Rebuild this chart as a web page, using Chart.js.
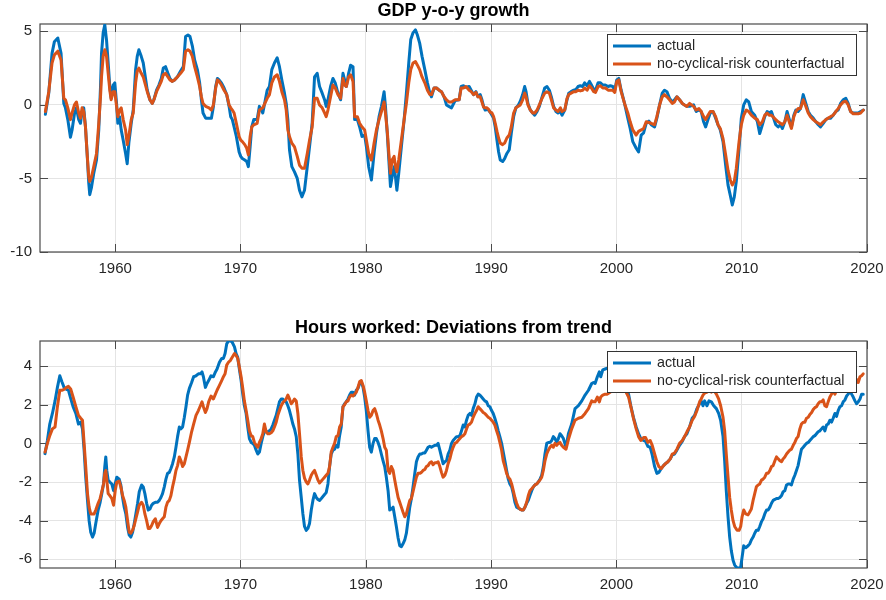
<!DOCTYPE html>
<html>
<head>
<meta charset="utf-8">
<script src="https://cdn.jsdelivr.net/npm/chart.js@4.4.1/dist/chart.umd.min.js"></script>
<style>
  html, body { margin: 0; padding: 0; background: #fff; }
  #wrap { position: relative; width: 886px; height: 600px; }
  canvas { position: absolute; left: 0; }
</style>
</head>
<body>
<div id="wrap">
  <canvas id="gdp" width="886" height="300" style="top:0"></canvas>
  <canvas id="hours" width="886" height="300" style="top:300px"></canvas>
</div>
<script>
// ---- Series labels and titles ----
const seriesLabels = ['actual', 'no-cyclical-risk counterfactual'];
const panelTitles = ['GDP y-o-y growth', 'Hours worked: Deviations from trend'];

// ---- Tick values ----
const yearTicks = [1960, 1970, 1980, 1990, 2000, 2010, 2020];
const gdpTicks = [-10, -5, 0, 5];
const hoursTicks = [-6, -4, -2, 0, 2, 4];

// ---- GDP y-o-y growth (percent) ----
const gdpYears = [
  1954.43,1954.70,1954.96,1955.15,1955.42,1955.68,1955.90,1956.03,1956.22,1956.43,1956.56,1956.75,1956.91,1957.09,1957.23,1957.36,1957.49,
  1957.63,1957.76,1957.89,1957.97,1958.11,1958.29,1958.51,1958.69,1958.83,1958.91,1959.04,1959.17,1959.31,1959.44,1959.57,1959.68,1959.84,1959.97,
  1960.11,1960.21,1960.35,1960.48,1960.64,1960.83,1960.96,1961.09,1961.28,1961.44,1961.63,1961.76,1961.89,1962.08,1962.24,1962.56,1962.77,1962.96,
  1963.09,1963.30,1963.49,1963.68,1963.84,1964.02,1964.21,1964.37,1964.56,1964.74,1964.96,1965.22,1965.44,1965.62,1965.81,1965.97,
  1966.16,1966.34,1966.56,1966.74,1966.88,1967.01,1967.22,1967.49,1967.68,1967.84,1968.02,1968.16,1968.29,1968.48,1968.69,1968.90,
  1969.09,1969.22,1969.35,1969.49,1969.67,1969.89,1970.02,1970.15,1970.34,1970.50,1970.63,1970.77,1970.90,
  1971.06,1971.33,1971.51,1971.78,1972.13,1972.31,1972.50,1972.71,1972.93,1973.11,1973.30,1973.51,1973.65,1973.78,1973.91,
  1974.10,1974.31,1974.53,1974.71,1974.90,1975.11,1975.33,1975.51,1975.72,1975.91,1976.12,1976.31,1976.52,1976.71,1976.84,1976.98,
  1977.19,1977.38,1977.56,1977.78,1977.99,1978.18,1978.31,1978.45,1978.63,1978.79,1978.98,1979.11,1979.33,1979.51,1979.70,1979.91,
  1980.05,1980.23,1980.45,1980.66,1980.85,1981.06,1981.25,1981.46,1981.57,1981.73,1981.84,1981.97,1982.10,1982.26,1982.37,1982.48,1982.63,1982.84,
  1983.06,1983.24,1983.43,1983.59,1983.77,1983.96,1984.12,1984.30,1984.49,1984.71,1984.92,1985.11,1985.24,1985.45,1985.64,1985.85,1986.04,1986.25,1986.44,1986.63,1986.84,
  1987.13,1987.45,1987.61,1987.80,1987.99,1988.25,1988.41,1988.60,1988.79,1988.95,1989.13,1989.27,1989.40,1989.53,1989.67,1989.80,1989.93,
  1990.07,1990.20,1990.33,1990.47,1990.60,1990.73,1990.92,1991.08,1991.26,1991.45,1991.61,1991.80,1991.98,1992.15,1992.33,1992.52,1992.68,1992.79,1992.94,
  1993.13,1993.32,1993.48,1993.67,1993.85,1994.07,1994.28,1994.46,1994.65,1994.81,1994.99,1995.18,1995.34,1995.53,1995.66,1995.88,1996.06,1996.20,1996.38,1996.60,1996.78,1996.94,
  1997.12,1997.31,1997.47,1997.66,1997.85,1998.01,1998.19,1998.33,1998.54,1998.73,1998.91,1999.12,1999.34,1999.52,1999.71,1999.87,
  2000.03,2000.19,2000.38,2000.65,2000.91,2001.10,2001.31,2001.58,2001.77,2001.98,2002.17,2002.38,2002.59,2002.78,
  2003.05,2003.23,2003.45,2003.66,2003.84,2004.03,2004.24,2004.46,2004.64,2004.83,2005.04,2005.26,2005.44,2005.63,2005.84,2006.16,2006.37,2006.59,2006.77,2006.96,
  2007.12,2007.31,2007.49,2007.71,2007.92,2008.11,2008.29,2008.51,2008.72,2008.91,2009.09,2009.25,2009.41,2009.57,2009.79,2009.97,
  2010.16,2010.37,2010.56,2010.77,2011.04,2011.25,2011.44,2011.65,2011.84,2012.03,2012.19,2012.37,2012.72,2012.91,2013.09,2013.25,2013.44,2013.62,2013.97,
  2014.16,2014.32,2014.50,2014.69,2014.91,2015.12,2015.31,2015.49,2015.71,2015.92,2016.11,2016.29,2016.51,2016.72,2016.90,2017.09,2017.30,2017.51,2017.70,2017.89,
  2018.10,2018.31,2018.50,2018.69,2018.90,2019.12,2019.30,2019.49,2019.71
];
const gdpActual = [
  -0.64,0.8,3.5,4.3,4.55,3.5,0.1,-0.2,-1.0,-2.2,-1.7,-0.6,-0.2,-1.0,-1.25,-0.45,-0.2,
  -1.5,-3.3,-5.3,-6.1,-5.6,-4.65,-3.75,-1.7,1.25,3.5,4.9,5.45,4.4,2.85,1.25,0.45,1.35,1.5,
  0.1,-1.25,-0.8,-1.7,-2.4,-3.3,-4.0,-2.6,-1.25,-0.35,2.4,3.3,3.75,3.3,2.85,1.0,0.35,0.1,
  0.35,1.0,1.35,1.8,2.5,2.6,2.15,1.8,1.6,1.7,1.9,2.3,2.6,4.65,4.75,4.65,
  4.0,3.05,2.4,1.5,0.35,-0.55,-0.9,-0.9,-0.9,-0.1,1.25,1.8,1.7,1.5,1.15,0.7,
  -0.1,-0.8,-1.0,-1.5,-2.15,-3.2,-3.5,-3.65,-3.75,-3.85,-4.2,-2.85,-1.5,
  -1.0,-1.0,-0.1,-0.55,1.0,1.25,2.4,2.85,3.2,2.6,1.7,0.8,0.1,-1.0,-3.05,
  -4.2,-4.55,-5.0,-5.8,-6.25,-5.8,-4.2,-2.85,-1.25,1.9,2.15,1.25,0.8,0.35,-0.1,0.35,
  1.25,1.8,1.5,0.8,0.35,2.15,1.7,1.25,2.15,2.7,2.6,-1.0,-1.0,-1.5,-2.15,-2.05,
  -2.85,-4.2,-5.1,-3.3,-1.95,-0.8,-0.1,0.9,-0.1,-2.15,-3.75,-5.55,-4.9,-4.2,-4.9,-5.8,-4.65,-2.85,
  -1.0,0.8,2.85,4.45,4.9,5.1,4.75,4.2,3.3,2.4,1.5,0.8,0.55,1.15,1.15,1.0,0.9,0.55,0,-0.1,-0.2,
  0.3,0.35,1.25,1.3,1.2,1.25,1.0,0.7,0.9,0.55,0.7,0.35,-0.1,-0.35,-0.3,-0.35,-0.5,
  -0.7,-0.9,-1.5,-2.4,-3.2,-3.75,-3.85,-3.65,-3.3,-3.05,-1.95,-0.8,-0.2,-0.05,0.25,0.7,1.25,0.9,0.1,
  -0.35,-0.55,-0.7,-0.45,-0.1,0.55,1.15,1.25,1.0,0.55,-0.1,-0.45,-0.55,-0.45,-0.7,-0.35,0.35,0.8,0.9,1.0,1.05,1.25,
  1.3,1.25,1.5,1.3,1.6,1.35,1.05,1.0,1.5,1.5,1.35,1.35,1.25,1.3,1.25,1.0,
  1.7,1.8,1.0,0.1,-0.9,-1.6,-2.5,-2.95,-3.2,-2.05,-1.9,-1.25,-1.1,-1.35,
  -1.5,-0.9,0,0.8,1.0,0.9,0.45,0.2,0.35,0.55,0.35,0.1,0,-0.1,-0.1,0,-0.45,-0.35,-0.45,-1.15,
  -1.5,-1.0,-0.55,-0.45,-0.9,-1.35,-1.7,-2.5,-4.1,-5.45,-6.15,-6.8,-6.25,-5.2,-2.95,-0.9,
  0,0.35,0.2,-0.45,-0.7,-1.15,-1.95,-1.35,-0.8,-0.45,-0.55,-0.45,-1.35,-1.5,-1.35,-1.6,-1.15,-0.45,-1.5,
  -0.7,-0.35,-0.45,-0.25,0.7,0.1,-0.45,-0.7,-0.9,-1.15,-1.35,-1.5,-1.25,-1.0,-0.9,-0.9,-0.7,-0.45,-0.35,0.1,
  0.35,0.45,0.1,-0.45,-0.55,-0.55,-0.55,-0.45,-0.35
];
const gdpCounterfactual = [
  -0.45,0.9,2.85,3.4,3.65,3.05,0.45,0.35,-0.2,-1.0,-0.55,0,0.2,-0.55,-0.9,-0.2,-0.45,
  -1.5,-3.3,-4.9,-5.2,-4.9,-4.2,-3.3,-1.25,0.55,1.9,3.3,3.75,3.3,2.15,1.0,0.35,0.9,0.9,
  -0.1,-0.8,-0.35,-0.2,-1.0,-1.7,-2.7,-2.15,-1.0,-0.55,1.5,2.3,2.5,2.15,1.9,0.9,0.35,0.1,
  0.35,0.9,1.25,1.6,2.05,2.15,1.9,1.7,1.6,1.7,1.9,2.15,2.4,3.65,3.75,3.65,
  3.3,2.6,1.9,1.25,0.55,0.1,-0.1,-0.2,-0.35,0,1.15,1.7,1.6,1.35,1.0,0.7,
  0,-0.2,-0.35,-0.55,-1.25,-2.15,-2.4,-2.5,-2.7,-2.95,-3.4,-2.15,-1.5,
  -1.35,-1.25,-0.35,-0.2,0.45,0.7,1.5,1.9,2.05,1.6,0.9,0.35,-0.35,-1.7,-2.15,
  -2.6,-2.85,-3.5,-4.1,-4.3,-4.3,-3.3,-2.4,-1.5,0.45,0.45,0,-0.2,-0.55,-0.8,-0.35,
  0.55,1.35,1.15,0.7,0.45,1.8,1.35,1.25,1.9,2.05,1.6,-0.8,-0.8,-1.25,-1.5,-1.7,
  -2.4,-3.3,-3.75,-2.6,-1.7,-1.0,-0.45,0.2,-0.55,-1.95,-3.3,-4.65,-3.75,-3.5,-4.2,-4.55,-3.75,-2.4,
  -1.0,0.1,1.5,2.4,2.85,2.95,2.7,2.4,1.9,1.5,1.0,0.7,0.7,1.15,1.15,1.0,0.9,0.55,0.35,0.2,0.2,
  0.35,0.35,1.15,1.15,1.25,1.0,0.9,0.7,0.85,0.55,0.55,0.2,-0.15,-0.2,-0.2,-0.3,-0.5,
  -0.55,-0.8,-1.25,-1.8,-2.25,-2.6,-2.7,-2.6,-2.25,-2.05,-1.5,-0.55,-0.2,-0.1,0,0.35,0.8,0.55,0,
  -0.35,-0.55,-0.55,-0.35,0,0.45,0.8,0.9,0.8,0.35,-0.2,-0.35,-0.45,-0.2,-0.45,-0.35,0.45,0.7,0.8,0.9,0.9,1.0,
  0.95,1.0,1.15,1.0,1.3,1.15,0.9,0.85,1.25,1.3,1.15,1.15,1.0,1.0,1.0,0.85,
  1.6,1.7,0.9,0.1,-0.55,-1.15,-1.7,-2.05,-1.8,-1.7,-1.6,-1.15,-1.2,-1.25,
  -1.35,-0.8,0,0.55,0.7,0.55,0.35,0.1,0.2,0.55,0.35,0.1,0,-0.1,0.1,-0.1,-0.35,-0.25,-0.45,-0.8,
  -1.0,-0.7,-0.45,-0.45,-0.8,-1.35,-1.6,-2.3,-3.4,-4.45,-5.1,-5.45,-5.2,-4.3,-2.5,-1.35,
  -0.7,-0.35,-0.45,-0.7,-0.9,-1.0,-1.35,-1.15,-0.7,-0.55,-0.7,-0.7,-1.0,-1.15,-1.25,-1.35,-1.15,-0.7,-1.6,
  -0.8,-0.45,-0.25,-0.25,0.35,-0.1,-0.55,-0.8,-1.0,-1.15,-1.25,-1.35,-1.15,-1.0,-0.9,-0.8,-0.7,-0.45,-0.25,0,
  0.2,0.25,0,-0.45,-0.6,-0.6,-0.6,-0.55,-0.35
];

// ---- Hours worked, deviations from trend (percent) ----
const hoursYears = [
  1954.40,1954.59,1954.78,1954.99,1955.20,1955.39,1955.58,1955.74,1955.92,1956.11,1956.27,1956.46,1956.64,1956.86,1957.07,1957.25,1957.39,
  1957.52,1957.65,1957.79,1957.92,1958.05,1958.19,1958.32,1958.45,1958.64,1958.80,1958.93,1959.07,1959.17,1959.25,1959.33,1959.44,1959.57,1959.73,1959.87,
  1960.00,1960.13,1960.32,1960.45,1960.59,1960.72,1960.85,1960.99,1961.12,1961.25,1961.39,1961.52,1961.65,1961.79,1961.92,1962.11,1962.24,1962.37,1962.51,1962.64,1962.77,1962.91,
  1963.04,1963.20,1963.38,1963.52,1963.65,1963.78,1963.92,1964.05,1964.18,1964.32,1964.45,1964.58,1964.72,1964.85,1964.98,1965.12,1965.25,1965.38,1965.52,1965.65,1965.78,1965.92,
  1966.10,1966.26,1966.45,1966.64,1966.80,1966.93,1967.04,1967.20,1967.33,1967.46,1967.65,1967.84,1968.00,1968.13,1968.32,1968.50,1968.64,1968.77,1968.90,
  1969.04,1969.20,1969.33,1969.52,1969.65,1969.78,1969.91,1970.05,1970.18,1970.31,1970.45,1970.58,1970.71,1970.85,1970.98,1971.11,1971.25,1971.38,1971.51,1971.65,1971.78,1971.91,
  1972.05,1972.18,1972.31,1972.45,1972.58,1972.71,1972.85,1972.98,1973.11,1973.25,1973.38,1973.51,1973.65,1973.78,1973.91,1974.05,1974.18,1974.31,1974.45,1974.58,1974.71,
  1974.85,1974.98,1975.11,1975.25,1975.38,1975.51,1975.65,1975.78,1975.91,1976.05,1976.18,1976.31,1976.45,1976.58,1976.71,1976.84,1976.98,1977.11,1977.24,1977.38,1977.51,1977.64,1977.78,1977.91,
  1978.04,1978.18,1978.31,1978.44,1978.58,1978.71,1978.84,1978.98,1979.11,1979.24,1979.38,1979.51,1979.64,1979.78,1979.91,1980.04,1980.18,1980.31,1980.44,1980.58,1980.71,1980.84,1980.98,
  1981.11,1981.24,1981.38,1981.51,1981.64,1981.78,1981.91,1982.04,1982.18,1982.31,1982.44,1982.58,1982.71,1982.84,1982.97,1983.11,1983.24,1983.37,1983.51,1983.64,1983.77,1983.91,
  1984.04,1984.17,1984.31,1984.44,1984.57,1984.71,1984.84,1984.97,1985.11,1985.24,1985.37,1985.51,1985.64,1985.77,1985.91,1986.04,1986.17,1986.31,1986.44,1986.57,1986.71,1986.84,1986.97,
  1987.11,1987.24,1987.37,1987.51,1987.64,1987.77,1987.91,1988.04,1988.17,1988.31,1988.44,1988.57,1988.71,1988.84,1988.97,1989.10,1989.24,1989.37,1989.50,1989.64,1989.77,1989.90,
  1990.04,1990.17,1990.30,1990.44,1990.57,1990.70,1990.84,1990.97,1991.10,1991.24,1991.37,1991.50,1991.64,1991.77,1991.90,1992.04,1992.17,1992.30,1992.44,1992.57,1992.70,1992.84,1992.97,
  1993.10,1993.24,1993.37,1993.50,1993.64,1993.77,1993.90,1994.04,1994.17,1994.30,1994.44,1994.57,1994.70,1994.84,1994.97,1995.10,1995.24,1995.37,1995.50,1995.63,1995.77,
  1995.98,1996.17,1996.43,1996.70,1996.97,1997.24,1997.50,1997.77,1998.03,1998.17,1998.30,1998.48,1998.64,1998.75,1998.91,1999.10,
  1999.28,1999.49,1999.71,1999.90,2000.16,2000.43,2000.70,2000.97,2001.15,2001.36,2001.58,2001.77,2001.95,2002.17,2002.33,2002.51,2002.70,2002.86,
  2003.05,2003.23,2003.39,2003.58,2003.76,2003.92,2004.11,2004.30,2004.46,2004.64,2004.83,2005.04,2005.26,2005.44,2005.63,2005.84,
  2006.05,2006.24,2006.43,2006.64,2006.77,2006.91,2007.04,2007.23,2007.39,2007.58,2007.77,2007.98,2008.16,2008.32,2008.51,2008.64,2008.77,2008.91,
  2009.04,2009.17,2009.31,2009.44,2009.63,2009.79,2009.92,2010.03,2010.16,2010.32,2010.51,2010.64,2010.77,2010.91,2011.04,2011.17,2011.31,2011.44,2011.58,2011.71,2011.84,2011.98,
  2012.11,2012.25,2012.38,2012.51,2012.65,2012.78,2012.91,2013.05,2013.18,2013.31,2013.44,2013.58,2013.71,2013.84,2013.97,2014.11,2014.24,2014.37,2014.50,2014.64,2014.77,2014.91,
  2015.04,2015.17,2015.31,2015.44,2015.58,2015.71,2015.84,2015.97,2016.10,2016.24,2016.37,2016.50,2016.64,2016.77,2016.90,2017.04,2017.17,2017.30,2017.44,2017.57,2017.70,
  2017.84,2017.97,2018.10,2018.24,2018.37,2018.50,2018.64,2018.77,2018.90,2019.04,2019.17,2019.30,2019.44,2019.57,2019.70
];
const hoursActual = [
  -0.53,0.15,1.0,1.55,2.2,2.9,3.5,3.2,2.9,2.8,2.75,2.3,1.9,1.55,1.0,1.1,0.75,
  -0.35,-1.75,-2.95,-4.0,-4.6,-4.85,-4.65,-4.15,-3.45,-3.05,-2.6,-2.1,-1.2,-0.7,-1.4,-1.9,-2.0,-2.1,-2.45,
  -2.1,-1.75,-1.85,-2.15,-2.8,-3.3,-3.65,-4.35,-4.75,-4.85,-4.6,-4.15,-3.65,-3.1,-2.5,-2.15,-2.25,-2.6,-3.1,-3.45,-3.4,-3.2,
  -3.1,-3.05,-3.05,-2.95,-2.8,-2.6,-2.25,-1.85,-1.55,-1.5,-1.3,-1.05,-0.7,-0.2,0.35,0.85,0.75,0.85,1.35,1.9,2.5,2.85,
  3.15,3.45,3.5,3.6,3.6,3.7,3.45,2.9,3.1,3.25,3.5,3.45,3.7,3.85,4.2,4.4,4.4,4.65,5.15,
  5.3,5.3,5.25,5.0,4.65,4.45,3.85,3.25,2.55,1.95,1.55,0.85,0.25,0.05,0,-0.1,-0.35,-0.55,-0.45,0,0.35,0.6,
  0.6,0.6,0.65,0.75,0.95,1.2,1.45,1.8,2.15,2.3,2.3,2.2,2.15,1.95,1.7,1.35,1.0,0.75,0.35,-0.55,-1.9,
  -2.8,-3.65,-4.3,-4.5,-4.4,-4.15,-3.45,-2.95,-2.6,-2.8,-2.9,-2.95,-2.85,-2.75,-2.65,-2.55,-2.1,-1.2,-0.55,-0.35,-0.3,-0.1,-0.2,0.4,
  0.85,1.9,2.05,2.15,2.3,2.5,2.65,2.65,2.5,2.75,2.85,3.1,3.2,2.9,2.4,1.7,0.65,-0.2,-0.45,0,0.25,0.25,0.05,
  -0.2,-0.55,-0.9,-1.2,-1.75,-2.45,-3.45,-3.4,-3.3,-3.8,-4.3,-4.9,-5.3,-5.35,-5.2,-5.0,-4.65,-4.0,-3.3,-2.85,-2.25,-1.55,
  -0.95,-0.7,-0.55,-0.55,-0.5,-0.5,-0.35,-0.2,-0.15,-0.2,-0.15,-0.1,-0.1,0,-0.35,-0.7,-1.05,-0.95,-0.9,-0.55,-0.35,0,0.15,
  0.25,0.35,0.35,0.4,0.65,0.95,0.85,1.2,1.45,1.55,1.45,1.8,2.05,2.4,2.55,2.5,2.4,2.3,2.2,2.15,1.95,1.9,
  1.7,1.55,1.3,1.0,0.65,0.35,0,-0.45,-0.9,-1.4,-1.85,-2.1,-2.25,-2.6,-3.05,-3.3,-3.35,-3.4,-3.45,-3.45,-3.3,-3.1,-2.95,
  -2.7,-2.45,-2.25,-2.15,-2.1,-2.0,-1.85,-1.65,-1.2,-0.55,0,0.05,0.05,0.15,0.35,0.25,0.05,0.25,0.5,0.4,0.25,
  -0.2,0.5,1.0,1.8,1.95,2.2,2.5,2.75,3.1,3.15,3.1,3.45,3.7,3.45,3.8,3.85,
  3.9,3.95,4.0,4.0,3.8,3.4,2.9,2.55,1.95,1.35,0.85,0.5,0.25,0.15,0.1,-0.15,-0.2,-0.6,
  -1.2,-1.55,-1.5,-1.3,-1.15,-1.05,-0.95,-0.8,-0.6,-0.55,-0.35,-0.1,0.1,0.35,0.5,0.85,
  1.3,1.45,1.8,2.05,2.2,1.95,2.2,1.95,2.2,2.15,1.95,1.8,1.55,1.2,0.35,-0.9,-2.45,-3.8,
  -4.85,-5.55,-6.05,-6.3,-6.45,-6.45,-6.4,-5.9,-5.3,-5.4,-5.3,-5.2,-5.0,-4.85,-4.65,-4.5,-4.5,-4.3,-4.05,-3.9,-3.65,-3.45,
  -3.45,-3.3,-3.1,-2.95,-2.9,-2.85,-2.85,-2.8,-2.7,-2.5,-2.45,-2.15,-2.1,-2.1,-2.15,-1.85,-1.65,-1.4,-1.15,-0.7,-0.3,-0.2,
  -0.1,0,0.05,0.15,0.25,0.35,0.4,0.5,0.6,0.65,0.75,0.85,0.65,0.95,1.0,1.2,1.1,1.3,1.55,1.4,1.7,
  1.9,1.95,2.15,2.25,2.45,2.55,2.75,2.55,2.4,2.2,2.05,2.15,2.3,2.55,2.55
];
const hoursCounterfactual = [
  -0.45,0,0.4,0.75,0.85,1.9,2.75,2.75,2.8,2.9,2.95,2.8,2.4,1.9,1.45,1.3,1.2,
  0,-1.2,-2.6,-3.3,-3.65,-3.65,-3.65,-3.45,-3.1,-2.85,-2.5,-2.1,-1.55,-1.4,-1.9,-2.6,-2.7,-2.85,-3.2,
  -2.45,-2.0,-1.95,-2.25,-2.7,-2.95,-3.3,-4.0,-4.6,-4.65,-4.5,-4.25,-3.9,-3.55,-3.2,-3.05,-3.2,-3.65,-4.0,-4.4,-4.4,-4.25,
  -4.05,-3.9,-4.35,-4.15,-4.0,-3.9,-3.8,-3.3,-3.05,-2.95,-2.7,-2.25,-1.85,-1.4,-1.15,-0.7,-0.9,-1.2,-1.05,-0.7,-0.35,0.05,
  0.6,1.0,1.45,1.7,1.95,2.15,1.9,1.6,1.8,2.15,2.45,2.3,2.55,2.75,3.0,3.25,3.45,3.6,4.05,
  4.2,4.3,4.45,4.65,4.55,4.4,3.95,3.45,2.85,2.2,1.7,1.2,0.65,0.4,0.35,0.05,-0.1,-0.2,0.05,0.25,0.5,1.0,
  0.6,0.5,0.5,0.55,0.65,0.85,1.1,1.45,1.7,1.95,2.1,2.2,2.3,2.5,2.3,2.05,2.15,2.3,2.2,1.55,0.5,
  -0.7,-1.4,-1.8,-2.0,-2.1,-1.9,-1.65,-1.5,-1.4,-1.65,-1.9,-2.05,-1.95,-1.85,-1.75,-1.65,-1.55,-1.2,-0.45,-0.2,0,0.35,0.4,0.85,
  1.0,1.9,2.0,2.15,2.2,2.4,2.5,2.45,2.55,2.65,2.9,3.2,3.25,3.0,2.65,2.2,1.7,1.35,1.45,1.7,1.8,1.55,1.2,
  0.95,0.65,0.25,-0.2,-0.35,-1.4,-1.55,-1.2,-1.4,-1.9,-2.35,-2.8,-3.05,-3.3,-3.55,-3.8,-3.65,-3.3,-2.95,-2.85,-2.5,-2.1,
  -1.75,-1.55,-1.55,-1.5,-1.4,-1.35,-1.2,-1.15,-1.0,-0.95,-1.1,-1.0,-1.0,-0.95,-1.2,-1.5,-1.75,-1.65,-1.4,-1.05,-0.8,-0.45,-0.2,
  0,0.05,0.15,0.25,0.35,0.4,0.5,0.75,0.95,1.0,1.1,1.35,1.55,1.7,1.9,1.8,1.7,1.6,1.55,1.45,1.35,1.3,
  1.2,1.1,0.95,0.65,0.4,0.05,-0.35,-0.9,-1.2,-1.55,-1.75,-1.85,-2.1,-2.45,-2.8,-3.1,-3.3,-3.4,-3.45,-3.45,-3.3,-3.05,-2.7,
  -2.45,-2.35,-2.25,-2.15,-2.1,-2.0,-1.9,-1.75,-1.4,-0.9,-0.55,-0.35,-0.2,-0.1,-0.2,0,-0.1,0,0.05,-0.1,-0.2,
  -0.3,0.2,0.75,1.2,1.3,1.35,1.55,1.8,2.2,2.15,2.15,2.4,2.15,2.4,2.5,2.55,
  2.55,2.65,2.75,2.9,2.95,2.9,2.75,2.4,1.9,1.3,0.75,0.35,0.15,0.3,0.3,0.05,0.15,-0.1,
  -0.55,-0.95,-1.2,-1.3,-1.15,-1.05,-0.95,-0.8,-0.55,-0.5,-0.3,0,0.15,0.35,0.6,0.85,
  1.2,1.4,1.7,2.15,2.3,2.5,2.6,2.65,2.75,2.65,2.75,2.55,2.3,1.95,1.35,0.65,-0.55,-1.75,
  -2.8,-3.45,-4.0,-4.3,-4.5,-4.5,-4.3,-3.8,-3.45,-3.65,-3.7,-3.55,-3.4,-2.95,-2.6,-2.25,-2.15,-2.1,-1.9,-1.85,-1.75,-1.55,
  -1.55,-1.4,-1.2,-1.15,-0.9,-0.7,-0.8,-0.9,-0.95,-0.8,-0.7,-0.55,-0.45,-0.35,-0.3,-0.1,0.05,0.25,0.35,0.75,1.0,1.1,
  1.1,1.3,1.35,1.5,1.6,1.75,1.85,1.9,2.05,2.15,2.15,2.25,1.95,1.9,2.15,2.4,2.55,2.75,2.55,2.75,2.85,
  2.95,3.0,3.1,3.1,3.2,3.25,3.2,3.3,3.3,3.35,3.3,3.15,3.45,3.5,3.6
];

// ---- Styling ----
const FONT = '"Liberation Sans", Arial, Helvetica, sans-serif';
const BLUE = '#0072BD';
const ORANGE = '#D95319';
const AXIS = '#4a4a4a';
const TEXT = '#262626';
const GRID = '#e4e4e4';

const toPoints = (xs, ys) => xs.map((x, i) => ({ x, y: ys[i] }));

// Box, inward tick marks, legend and title in the style of a MATLAB axes
const axesDecor = {
  id: 'axesDecor',
  beforeDatasetsDraw(chart) {
    const { ctx, chartArea: a, scales } = chart;
    ctx.save();
    ctx.strokeStyle = AXIS;
    ctx.lineWidth = 1.2;
    ctx.strokeRect(a.left, a.top, a.right - a.left, a.bottom - a.top);
    ctx.lineWidth = 1;
    const len = 8;
    ctx.beginPath();
    scales.x.ticks.forEach(t => {
      const px = Math.round(scales.x.getPixelForValue(t.value)) + 0.5;
      ctx.moveTo(px, a.bottom); ctx.lineTo(px, a.bottom - len);
      ctx.moveTo(px, a.top); ctx.lineTo(px, a.top + len);
    });
    scales.y.ticks.forEach(t => {
      const py = Math.round(scales.y.getPixelForValue(t.value)) + 0.5;
      ctx.moveTo(a.left, py); ctx.lineTo(a.left + len, py);
      ctx.moveTo(a.right, py); ctx.lineTo(a.right - len, py);
    });
    ctx.stroke();
    ctx.restore();
  },
  afterDatasetsDraw(chart) {
    const { ctx, chartArea: a } = chart;
    const bw = 249, bh = 41;
    const bx = a.right - 260, by = a.top + 10;
    ctx.save();
    ctx.fillStyle = '#ffffff';
    ctx.fillRect(bx, by, bw, bh);
    ctx.strokeStyle = '#333333';
    ctx.lineWidth = 1;
    ctx.strokeRect(bx + 0.5, by + 0.5, bw, bh);
    ctx.font = '14.3px ' + FONT;
    ctx.textBaseline = 'middle';
    ctx.textAlign = 'left';
    chart.data.datasets.forEach((ds, i) => {
      const ly = by + 12 + i * 18;
      ctx.strokeStyle = ds.borderColor;
      ctx.lineWidth = 3;
      ctx.beginPath();
      ctx.moveTo(bx + 6, ly);
      ctx.lineTo(bx + 44, ly);
      ctx.stroke();
      ctx.fillStyle = TEXT;
      ctx.fillText(ds.label, bx + 50, ly + 0.5);
    });
    ctx.restore();
  },
  afterDraw(chart, args, opts) {
    const { ctx, chartArea: a } = chart;
    ctx.save();
    ctx.font = 'bold 18px ' + FONT;
    ctx.fillStyle = '#000000';
    ctx.textAlign = 'center';
    ctx.textBaseline = 'alphabetic';
    ctx.fillText(opts.text, (a.left + a.right) / 2, a.top - 8);
    ctx.restore();
  }
};

function makePanel(canvasId, title, years, actual, counter, yMin, yMax, yTicks, padTop, xAxisHeight) {
  return new Chart(document.getElementById(canvasId), {
    type: 'line',
    data: {
      datasets: [
        { label: seriesLabels[0], data: toPoints(years, actual), borderColor: BLUE,
          borderWidth: 3, order: 1 },
        { label: seriesLabels[1], data: toPoints(years, counter), borderColor: ORANGE,
          borderWidth: 3, order: 0 }
      ]
    },
    options: {
      responsive: false,
      animation: false,
      devicePixelRatio: 1,
      layout: { padding: { top: padTop, right: 19, left: 0, bottom: 0 } },
      elements: {
        point: { radius: 0, hoverRadius: 0 },
        line: { tension: 0, borderJoinStyle: 'round', borderCapStyle: 'round', fill: false }
      },
      datasets: { line: { clip: 0 } },
      plugins: {
        legend: { display: false },
        tooltip: { enabled: false },
        title: { display: false },
        axesDecor: { text: title }
      },
      scales: {
        x: {
          type: 'linear',
          min: 1954, max: 2020,
          afterBuildTicks: s => { s.ticks = yearTicks.map(v => ({ value: v })); },
          afterFit: s => {
            s.height = xAxisHeight;
            s.paddingLeft = 0; s.paddingRight = 0;
          },
          grid: { color: GRID, lineWidth: 1, drawTicks: false },
          border: { display: false },
          ticks: {
            autoSkip: false, maxRotation: 0, padding: 8,
            color: TEXT, font: { family: FONT, size: 15 },
            callback: v => String(v)
          }
        },
        y: {
          type: 'linear',
          min: yMin, max: yMax,
          afterBuildTicks: s => { s.ticks = yTicks.map(v => ({ value: v })); },
          afterFit: s => {
            s.width = 40;
            s.paddingTop = 0; s.paddingBottom = 0;
          },
          grid: { color: GRID, lineWidth: 1, drawTicks: false },
          border: { display: false },
          ticks: {
            padding: 8, color: TEXT, font: { family: FONT, size: 15 },
            callback: v => String(v)
          }
        }
      }
    },
    plugins: [axesDecor]
  });
}

makePanel('gdp', panelTitles[0], gdpYears, gdpActual, gdpCounterfactual, -10, 5.5, gdpTicks, 24, 48);
makePanel('hours', panelTitles[1], hoursYears, hoursActual, hoursCounterfactual, -6.45, 5.3, hoursTicks, 41, 32);
</script>
</body>
</html>
